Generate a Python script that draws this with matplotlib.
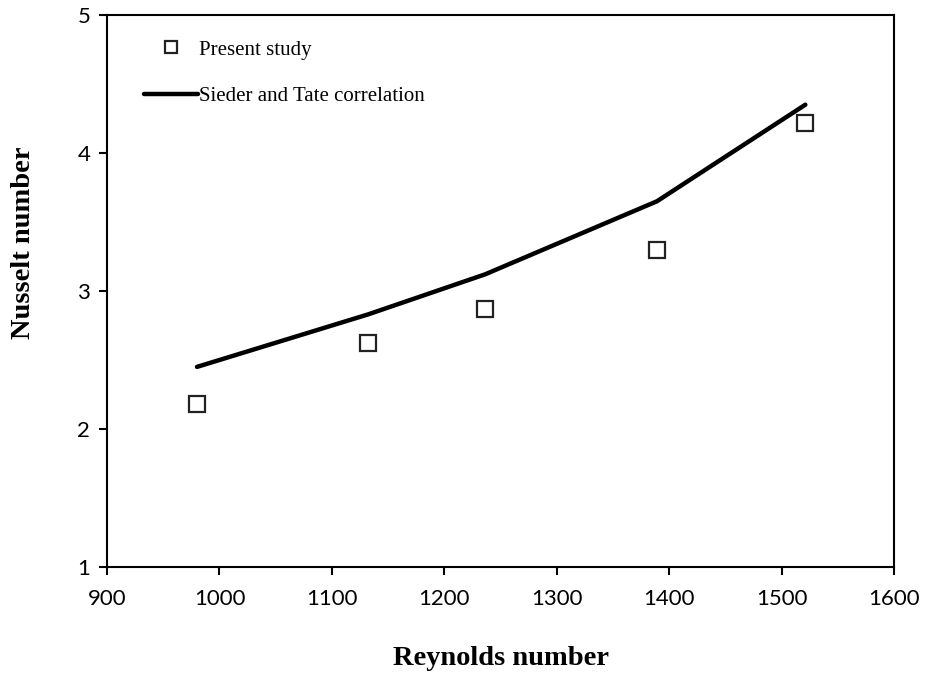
import matplotlib
matplotlib.use("Agg")
import matplotlib.pyplot as plt

# Nusselt number vs Reynolds number
re_values = [980, 1132, 1236, 1389, 1521]
nu_present = [2.18, 2.62, 2.87, 3.30, 4.22]
nu_sieder_tate = [2.45, 2.83, 3.12, 3.65, 4.35]

x_ticks = [900, 1000, 1100, 1200, 1300, 1400, 1500, 1600]
y_ticks = [1, 2, 3, 4, 5]

fig = plt.figure(figsize=(9.25, 6.75), dpi=100)
ax = fig.add_axes([0.1157, 0.16, 0.851, 0.8178])

ax.plot(re_values, nu_present, linestyle="none", marker="s", markersize=12,
        markerfacecolor="white", markeredgecolor="#222222", markeredgewidth=1.6,
        label="Present study", zorder=3)
ax.plot(re_values, nu_sieder_tate, color="black", linewidth=3.2,
        solid_capstyle="round", label="Sieder and Tate correlation", zorder=2)

ax.set_xlim(900, 1600)
ax.set_ylim(1, 5)
ax.set_xticks(x_ticks)
ax.set_yticks(y_ticks)

tick_font = {"family": "Lato", "size": 16}
ax.set_xticklabels([str(t) for t in x_ticks], fontdict=tick_font)
ax.set_yticklabels([str(t) for t in y_ticks], fontdict=tick_font)
ax.tick_params(axis="both", direction="out", length=6, width=1.5, color="black",
               top=False, right=False)
ax.tick_params(axis="x", pad=10)
ax.tick_params(axis="y", pad=6)

for spine in ax.spines.values():
    spine.set_linewidth(1.5)
    spine.set_color("black")

ax.set_xlabel("Reynolds number", family="Liberation Serif", fontweight="bold",
              fontsize=20.5, va="center", ha="center")
ax.set_ylabel("Nusselt number", family="Liberation Serif", fontweight="bold",
              fontsize=20.5, va="center", ha="center")
ax.xaxis.set_label_coords(0.5, -0.166)
ax.yaxis.set_label_coords(-0.106, 0.587)

leg = ax.legend(loc="upper left", frameon=False, handlelength=2.55, handletextpad=0.05,
                labelspacing=1.3, borderaxespad=0.3, bbox_to_anchor=(0.029, 0.981),
                prop={"family": "Liberation Serif", "size": 15})
for h in leg.legend_handles:
    if h.get_marker() == "s":
        h.set_markersize(8)

fig.savefig("out.png", dpi=100, facecolor="white")
